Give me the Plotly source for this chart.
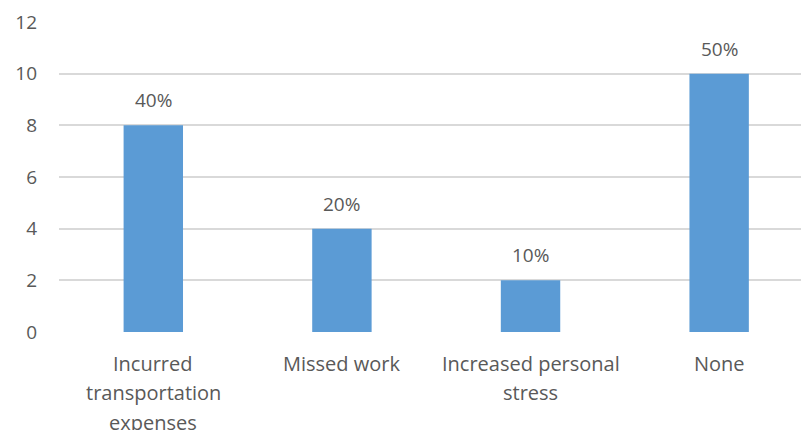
import plotly.graph_objects as go

categories = ["Incurred transportation expenses", "Missed work",
              "Increased personal stress", "None"]
category_lines = [["Incurred", "transportation", "expenses"],
                  ["Missed work"],
                  ["Increased personal", "stress"],
                  ["None"]]
values = [8, 4, 2, 10]
value_labels = ["40%", "20%", "10%", "50%"]
y_ticks = [0, 2, 4, 6, 8, 10, 12]

FONT = "Open Sans"
TXT = "#595959"
BAR = "#5B9BD5"
GRID = "#D9D9D9"

fig = go.Figure()
fig.add_trace(go.Bar(x=categories, y=values, marker=dict(color=BAR, line=dict(width=0)),
                     width=0.315, hoverinfo="skip"))

annotations = []
for cat, v, lab in zip(categories, values, value_labels):
    annotations.append(dict(x=cat, y=v, xref="x", yref="y", text=lab, showarrow=False,
                            yanchor="middle", yshift=25,
                            font=dict(family=FONT, size=19, color=TXT)))
for cat, lines in zip(categories, category_lines):
    for i, line in enumerate(lines):
        annotations.append(dict(x=cat, y=0, xref="x", yref="paper", text=line, showarrow=False,
                                yanchor="middle", yshift=-31 - 29.5 * i,
                                font=dict(family=FONT, size=20, color=TXT)))

fig.update_layout(
    width=801, height=430,
    margin=dict(l=59, r=0, t=22, b=98),
    paper_bgcolor="white", plot_bgcolor="white",
    showlegend=False,
    annotations=annotations,
    xaxis=dict(type="category", range=[-0.5, 3.434], showticklabels=False,
               showgrid=False, zeroline=False, showline=False, ticks=""),
    yaxis=dict(range=[0, 12], tickvals=y_ticks, showgrid=True, gridcolor=GRID, gridwidth=1.5,
               zeroline=False, showline=False, ticks="",
               tickfont=dict(family=FONT, size=19, color=TXT), ticklabelstandoff=21),
)
fig.write_html("out.html")
